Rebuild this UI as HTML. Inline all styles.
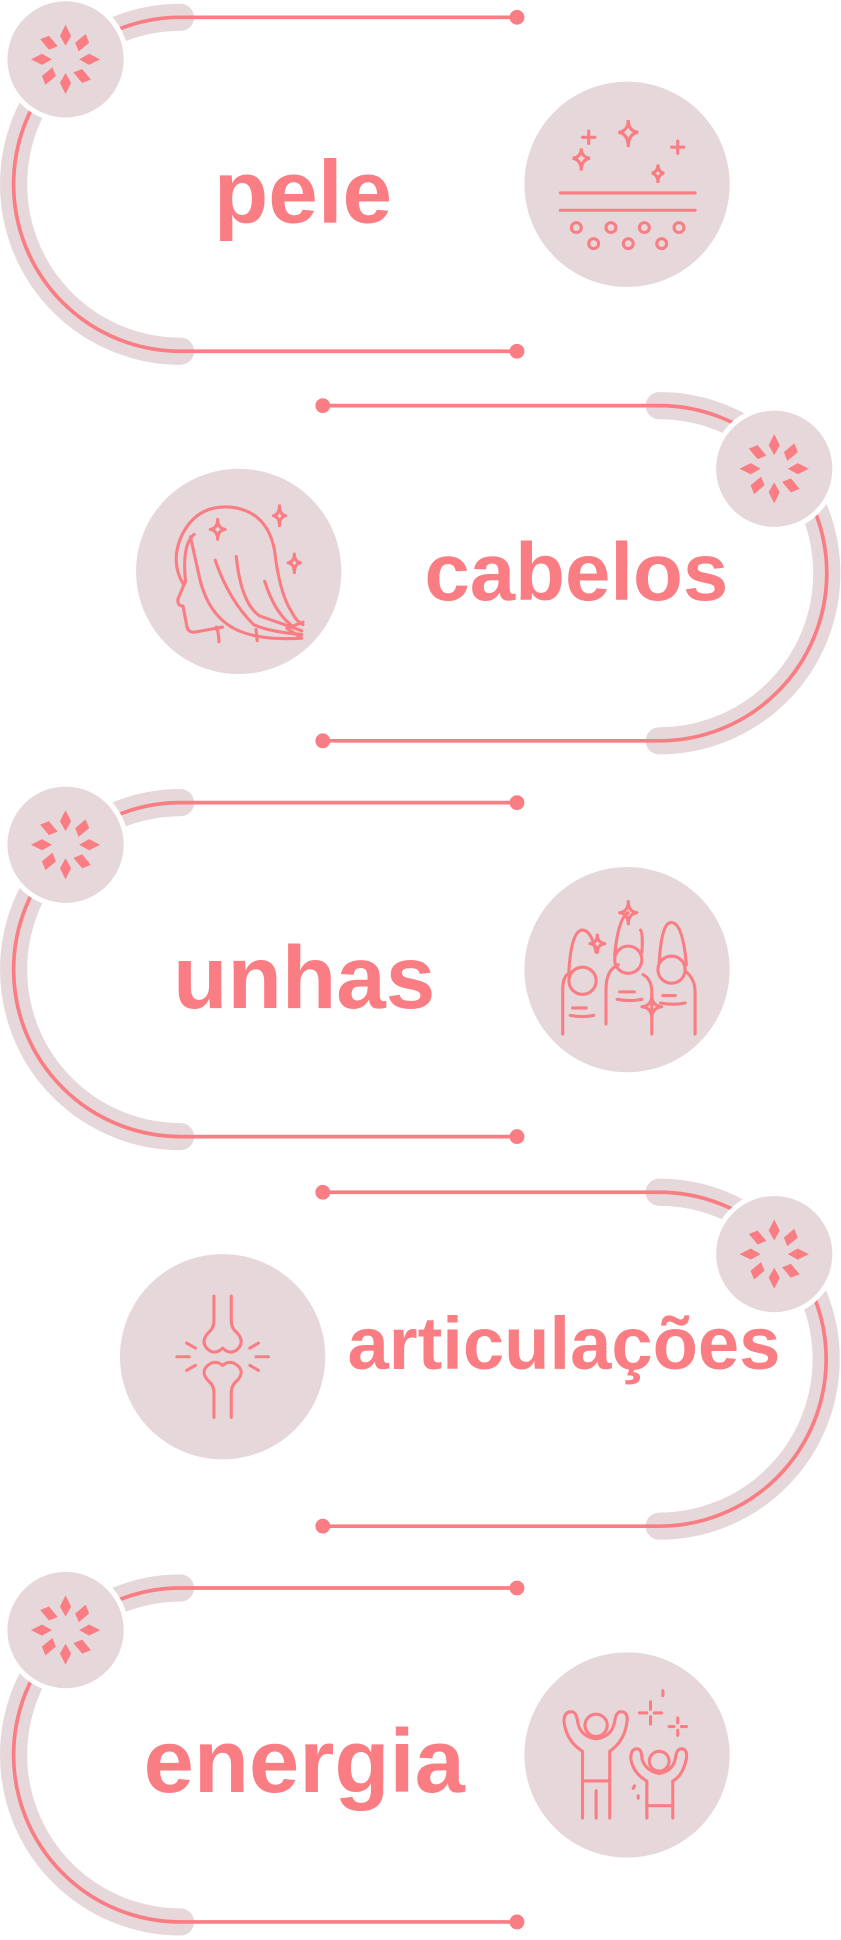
<!DOCTYPE html>
<html><head><meta charset="utf-8"><style>
html,body{margin:0;padding:0;background:#fff;}
svg{display:block;}
text{font-family:"Liberation Sans",sans-serif;font-weight:bold;fill:#f97d83;}
</style></head><body>
<svg width="841" height="1940" viewBox="0 0 680 1568.6" preserveAspectRatio="none" xmlns="http://www.w3.org/2000/svg">
<defs>
<g id="flower">
  <circle r="49" fill="#e6d8da" stroke="#fff" stroke-width="4"/>
  <g fill="#f97d83">
    <path d="M0,-28 L4.5,-19 L0,-11 L-4.5,-19Z"/>
    <path d="M0,-28 L4.5,-19 L0,-11 L-4.5,-19Z" transform="rotate(90)"/>
    <path d="M0,-28 L4.5,-19 L0,-11 L-4.5,-19Z" transform="rotate(180)"/>
    <path d="M0,-28 L4.5,-19 L0,-11 L-4.5,-19Z" transform="rotate(270)"/>
    <path d="M-3,-26 L4,-23 L3,-12 L-4,-15Z" transform="rotate(45)"/>
    <path d="M-3,-26 L4,-23 L3,-12 L-4,-15Z" transform="rotate(135)"/>
    <path d="M-3,-26 L4,-23 L3,-12 L-4,-15Z" transform="rotate(225)"/>
    <path d="M-3,-26 L4,-23 L3,-12 L-4,-15Z" transform="rotate(315)"/>
  </g>
</g>
</defs>

<g>
  <path d="M146,14 A135,135 0 0 0 146,284" fill="none" stroke="#e6d8da" stroke-width="22" stroke-linecap="round"/>
  <path d="M418,14 H146 A135,135 0 0 0 146,284 H418" fill="none" stroke="#f97d83" stroke-width="3"/>
  <circle cx="418" cy="14" r="6" fill="#f97d83"/><circle cx="418" cy="284" r="6" fill="#f97d83"/>
  <use href="#flower" x="53" y="48"/>
  <text x="245" y="180" font-size="72" text-anchor="middle">pele</text>
  <circle cx="507" cy="149" r="83" fill="#e6d8da"/>
  <g fill="none" stroke="#f97d83" stroke-width="2.5" stroke-linecap="round">
    <path d="M508,97 Q508,106 516,107 Q508,108 508,119 Q508,108 500,107 Q508,106 508,97Z"/>
    <path d="M470,120 Q470,127 477,128 Q470,129 470,138 Q470,129 463,128 Q470,127 470,120Z"/>
    <path d="M532,133 Q532,139 537,140 Q532,141 532,148 Q532,141 527,140 Q532,139 532,133Z"/>
    <path d="M476,106 V116 M471,111 H481 M548,114 V124 M543,119 H553"/>
    <path d="M453,156 H562 M453,170 H562"/>
    <circle cx="466" cy="184" r="4"/><circle cx="494" cy="184" r="4"/><circle cx="521" cy="184" r="4"/><circle cx="549" cy="184" r="4"/>
    <circle cx="480" cy="197" r="4"/><circle cx="508" cy="197" r="4"/><circle cx="535" cy="197" r="4"/>
  </g>
</g>

<g>
  <path d="M533,328 A135,135 0 0 1 533,599" fill="none" stroke="#e6d8da" stroke-width="22" stroke-linecap="round"/>
  <path d="M261,328 H533 A135,135 0 0 1 533,599 H261" fill="none" stroke="#f97d83" stroke-width="3"/>
  <circle cx="261" cy="328" r="6" fill="#f97d83"/><circle cx="261" cy="599" r="6" fill="#f97d83"/>
  <use href="#flower" x="626" y="379"/>
  <text x="466" y="485" font-size="66" text-anchor="middle">cabelos</text>
  <circle cx="193" cy="462" r="83" fill="#e6d8da"/>
  <g fill="none" stroke="#f97d83" stroke-width="2.5" stroke-linecap="round" stroke-linejoin="round">
    <path d="M148,472 Q138,455 146,435 Q158,408 186,410 Q216,413 222,445 Q226,480 236,495 Q240,503 245,505"/>
    <path d="M157,432 Q147,440 150,470 L144,484 Q143,490 148,490 L151,506 Q152,512 158,511 L180,507"/>
    <path d="M154,434 L162,470 Q170,500 193,510 Q212,518 244,516 L232,508 L245,503"/>
    <path d="M174,453 Q185,485 205,505 Q218,511 244,513"/>
    <path d="M191,450 Q195,488 210,498 L244,510"/>
    <path d="M214,470 Q222,495 235,505"/>
    <path d="M175,507 Q177,512 177,519 M207,509 L208,518"/>
    <path d="M176,420 Q176,427 182,428 Q176,429 176,436 Q176,429 170,428 Q176,427 176,420Z"/>
    <path d="M226,409 Q226,416 231,417 Q226,418 226,425 Q226,418 221,417 Q226,416 226,409Z"/>
    <path d="M238,448 Q238,454 243,455 Q238,456 238,463 Q238,456 233,455 Q238,454 238,448Z"/>
  </g>
</g>

<g>
  <path d="M146,649 A135,135 0 0 0 146,919" fill="none" stroke="#e6d8da" stroke-width="22" stroke-linecap="round"/>
  <path d="M418,649 H146 A135,135 0 0 0 146,919 H418" fill="none" stroke="#f97d83" stroke-width="3"/>
  <circle cx="418" cy="649" r="6" fill="#f97d83"/><circle cx="418" cy="919" r="6" fill="#f97d83"/>
  <use href="#flower" x="53" y="683"/>
  <text x="246" y="815" font-size="72" text-anchor="middle">unhas</text>
  <circle cx="507" cy="784" r="83" fill="#e6d8da"/>
  <g fill="none" stroke="#f97d83" stroke-width="2.5" stroke-linecap="round" stroke-linejoin="round">
    <path d="M455,836 V800 Q455,788 462,786 M490,828 V800 Q490,784 500,780 M527,836 V802 Q527,792 520,788 M562,836 V802 Q562,792 555,786"/>
    <circle cx="471" cy="793" r="11"/><circle cx="508" cy="776" r="11"/><circle cx="543" cy="784" r="11"/>
    <path d="M460,785 Q462,752 471,752 Q478,752 482,770 M497,772 Q500,742 508,738 M519,770 Q520,755 518,752 M533,778 Q535,745 543,746 Q552,746 555,780"/>
    <path d="M463,815 H474 M461,821 Q471,823 480,821 M501,802 H513 M499,808 Q510,810 519,808 M536,805 H546 M534,811 Q545,813 554,811"/>
    <path d="M483,756 Q483,762 489,763 Q483,764 483,770 Q483,764 477,763 Q483,762 483,756Z"/>
    <path d="M508,729 Q508,737 515,738 Q508,739 508,747 Q508,739 501,738 Q508,737 508,729Z"/>
    <path d="M527,805 Q527,813 535,814 Q527,815 527,823 Q527,815 519,814 Q527,813 527,805Z"/>
  </g>
</g>

<g>
  <path d="M533,964 A135,135 0 0 1 533,1234" fill="none" stroke="#e6d8da" stroke-width="22" stroke-linecap="round"/>
  <path d="M261,964 H533 A135,135 0 0 1 533,1234 H261" fill="none" stroke="#f97d83" stroke-width="3"/>
  <circle cx="261" cy="964" r="6" fill="#f97d83"/><circle cx="261" cy="1234" r="6" fill="#f97d83"/>
  <use href="#flower" x="626" y="1014"/>
  <text x="456" y="1107" font-size="60" text-anchor="middle">articulações</text>
  <circle cx="180" cy="1097" r="83" fill="#e6d8da"/>
  <g fill="none" stroke="#f97d83" stroke-width="2.5" stroke-linecap="round" stroke-linejoin="round">
    <path d="M173,1048 V1068 Q173,1074 168,1078 Q162,1085 168,1091 Q174,1096 180,1090 Q186,1096 192,1091 Q198,1085 192,1078 Q187,1074 187,1068 V1048"/>
    <path d="M173,1146 V1126 Q173,1120 168,1116 Q162,1109 168,1104 Q174,1099 180,1104 Q186,1099 192,1104 Q198,1109 192,1116 Q187,1120 187,1126 V1146"/>
    <path d="M143,1097 H153 M207,1097 H217 M151,1086 L158,1090 M151,1108 L158,1104 M209,1086 L202,1090 M209,1108 L202,1104"/>
  </g>
</g>

<g>
  <path d="M146,1284 A135,135 0 0 0 146,1554" fill="none" stroke="#e6d8da" stroke-width="22" stroke-linecap="round"/>
  <path d="M418,1284 H146 A135,135 0 0 0 146,1554 H418" fill="none" stroke="#f97d83" stroke-width="3"/>
  <circle cx="418" cy="1284" r="6" fill="#f97d83"/><circle cx="418" cy="1554" r="6" fill="#f97d83"/>
  <use href="#flower" x="53" y="1318"/>
  <text x="246" y="1449" font-size="73" text-anchor="middle">energia</text>
  <circle cx="507" cy="1419" r="83" fill="#e6d8da"/>
  <g fill="none" stroke="#f97d83" stroke-width="2.5" stroke-linecap="round" stroke-linejoin="round">
    <circle cx="482" cy="1395" r="9"/>
    <path d="M471,1470 V1416 Q458,1408 456,1392 Q456,1384 462,1384 Q466,1384 467,1392 Q469,1404 482,1406 Q495,1404 497,1392 Q498,1384 502,1384 Q508,1384 507,1392 Q505,1408 493,1416 V1470"/>
    <path d="M471,1440 H493 M482,1448 V1470"/>
    <circle cx="533" cy="1424" r="8"/>
    <path d="M523,1470 V1440 Q512,1434 510,1422 Q510,1414 515,1414 Q519,1414 519,1422 Q522,1432 533,1434 Q544,1432 546,1422 Q547,1414 551,1414 Q556,1414 555,1422 Q552,1436 544,1440 V1470"/>
    <path d="M523,1460 H544 M513,1444 L512,1446 M516,1452 V1454"/>
    <path d="M526,1376 V1382 M526,1388 V1394 M517,1385 H523 M529,1385 H535"/>
    <path d="M548,1389 V1393 M548,1399 V1403 M541,1396 H545 M551,1396 H555"/>
    <path d="M536,1367 V1371"/>
  </g>
</g>
</svg>
</body></html>
